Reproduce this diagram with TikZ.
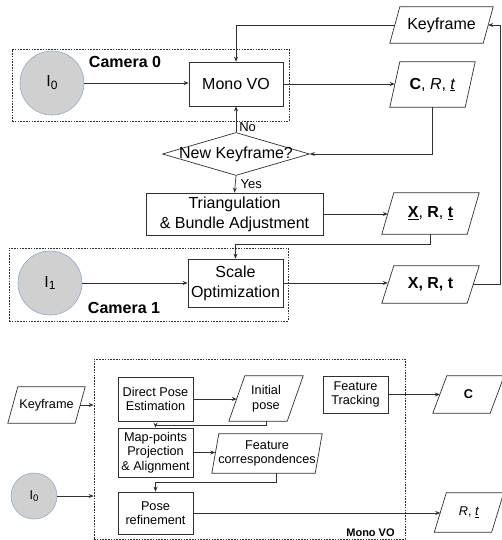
\documentclass[tikz,border=0pt]{standalone}
\usepackage{fontspec}
\setmainfont{Liberation Sans}
\usetikzlibrary{arrows.meta,shapes.geometric}
\definecolor{ln}{HTML}{303030}
\definecolor{cfill}{HTML}{D0D0D0}
\definecolor{cedge}{HTML}{8EA9CF}
\newcommand\bigfont{\fontsize{16}{20}\selectfont}
\newcommand\midfont{\fontsize{13}{15}\selectfont}
\newcommand\smallfont{\fontsize{12.7}{14.5}\selectfont}
\newcommand\mypara[7]{%
  \node[ptext, minimum width=#3pt, minimum height=#4pt, font=#6] (#1) at (#2) {#7};
  \draw[boxline] ([xshift=#5pt]#1.north west) -- ([xshift=#5pt]#1.north east) -- ([xshift=-#5pt]#1.south east) -- ([xshift=-#5pt]#1.south west) -- cycle;}
\tikzset{
  boxline/.style={draw=ln, line width=0.7pt},
  box/.style={boxline, rectangle, inner sep=1pt, align=center},
  ptext/.style={inner sep=0pt, align=center},
  frame/.style={draw=ln, line width=0.6pt, dash pattern=on 1.6pt off 1.2pt, inner sep=0pt},
  cam/.style={circle, fill=cfill, draw=cedge, line width=0.6pt, inner sep=0pt},
  arr/.style={draw=ln, line width=0.7pt, -{Stealth[length=5pt,width=4pt]}},
  plain/.style={draw=ln, line width=0.7pt},
  lbl/.style={inner sep=0pt}
}
\begin{document}
\begin{tikzpicture}[x=1pt,y=-1pt]
\useasboundingbox (0,0) rectangle (501,540);
% ---------- top part ----------
\node[frame, minimum width=277pt, minimum height=72pt] (cam0) at (150.5,85) {};
\node[lbl, font=\bigfont\bfseries] (cam0lbl) at (125,62) {Camera 0};
\node[cam, minimum size=64pt, font=\bigfont] (I0) at (52,83) {I\raisebox{-0.35ex}{\fontsize{12}{12}\selectfont 0}};
\node[box, minimum width=94pt, minimum height=44pt, font=\bigfont] (mono) at (236,84) {Mono VO};
\mypara{kf}{441.5,25}{93}{36}{5}{\bigfont}{Keyframe}
\mypara{crt}{432.5,84.5}{75}{45}{5}{\bigfont}{\textbf{C}, \textit{R}, \underline{\textit{t}}}
\node[diamond, boxline, minimum width=147pt, minimum height=43pt, inner sep=0pt] (dec) at (236,154) {};
\node[lbl, font=\bigfont] (dectext) at (dec.center) {New Keyframe?};
\node[box, minimum width=177pt, minimum height=42pt, font=\bigfont] (tri) at (234.5,214) {Triangulation\\\& Bundle Adjustment};
\mypara{xrt1}{430.5,213.5}{85}{41}{6}{\bigfont}{\underline{\textbf{X}}, \textbf{R}, \underline{\textbf{t}}}
\node[frame, minimum width=279pt, minimum height=73pt] (cam1) at (148.5,284.5) {};
\node[cam, minimum size=64pt, font=\bigfont] (I1) at (50,283) {I\raisebox{-0.35ex}{\fontsize{12}{12}\selectfont 1}};
\node[box, minimum width=95pt, minimum height=48pt, font=\bigfont] (scale) at (235.5,283) {Scale\\Optimization};
\node[lbl, font=\bigfont\bfseries] (cam1lbl) at (124,308) {Camera 1};
\mypara{xrt2}{430.5,284.5}{85}{37}{6}{\bigfont}{\textbf{X, R, t}}
\coordinate (rt) at (500,25);
% connectors top
\draw[arr] (I0.east) -- (I0.east -| mono.west);
\draw[arr] (mono.east) -- (mono.east -| crt.west);
\draw[arr] (kf.west) -| (mono.north);
\draw[arr] (crt.south) |- (dec.east);
\draw[arr] (dec.north) -- (mono.south) node[lbl, pos=0.2, right=3pt, font=\midfont] (nolbl) {No};
\draw[arr] (dec.south) -- (tri.north) node[lbl, pos=0.5, right=5pt, font=\midfont] (yeslbl) {Yes};
\draw[arr] (tri.east) -- (tri.east -| xrt1.west);
\draw[arr] (xrt1.south) -- ++(0,10) -| (scale.north);
\draw[arr] (I1.east) -- (I1.east -| scale.west);
\draw[arr] (scale.east) -- (scale.east -| xrt2.west);
\draw[arr] (xrt2.east) -- (xrt2.east -| rt) -- (rt) -- (kf.east);
% ---------- bottom part ----------
\node[frame, minimum width=311pt, minimum height=180pt] (vo) at (249.5,449) {};
\node[lbl, font=\fontsize{11}{13}\selectfont\bfseries] (volbl) at (370.5,533) {Mono VO};
\mypara{kf2}{46.5,405}{67}{36}{5}{\smallfont}{Keyframe}
\node[cam, minimum size=46pt, font=\smallfont] (I0b) at (34,496) {I\raisebox{-0.35ex}{\fontsize{9.5}{10}\selectfont 0}};
\node[box, minimum width=75pt, minimum height=44pt, font=\smallfont] (dpe) at (155.5,399) {Direct Pose\\Estimation};
\mypara{ip}{266,398.5}{58}{45}{8}{\smallfont}{Initial\\pose}
\node[box, minimum width=75pt, minimum height=49pt, font=\smallfont] (mp) at (155.5,452.5) {Map-points\\Projection\\\& Alignment};
\mypara{fc}{267,453.5}{103}{39}{3.5}{\smallfont}{Feature\\correspondences}
\node[box, minimum width=75pt, minimum height=42pt, font=\smallfont] (pr) at (155.5,513) {Pose\\refinement};
\node[box, minimum width=65pt, minimum height=37pt, font=\smallfont] (ft) at (355.5,394.5) {Feature\\Tracking};
\mypara{cout}{468.5,394.5}{57}{37}{7}{\smallfont}{\textbf{C}}
\mypara{rtout}{469,512.5}{57}{39}{6}{\smallfont}{\textit{R}, \underline{\textit{t}}}
% connectors bottom
\draw[arr] (kf2.east) -- (kf2.east -| vo.west);
\draw[arr] (I0b.east) -- (I0b.east -| vo.west);
\draw[arr] (dpe.east) -- (dpe.east -| ip.west);
\draw[arr] (ip.south) -- ++(0,4) -| (mp.north);
\draw[arr] (mp.east) -- (mp.east -| fc.west);
\draw[arr] ([xshift=9pt]fc.south) -- ++(0,9) -| (pr.north);
\draw[arr] (pr.east) -- (pr.east -| rtout.west);
\draw[arr] (ft.east) -- (ft.east -| cout.west);
\end{tikzpicture}
\end{document}
